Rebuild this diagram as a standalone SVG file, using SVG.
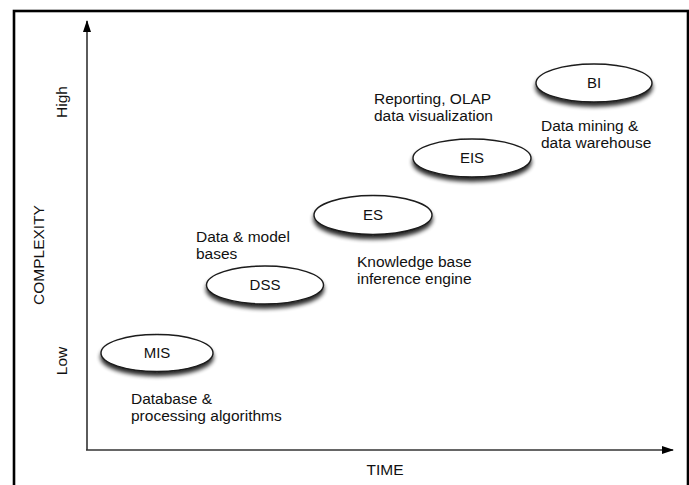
<svg xmlns="http://www.w3.org/2000/svg" width="689" height="485" viewBox="0 0 689 485">
<style>
  text { font-family: "Liberation Sans", Arial, Helvetica, sans-serif; fill: #111; }
  .lbl { font-size: 15.5px; }
  .node { font-size: 15px; text-anchor: middle; }
  .ax { font-size: 15.5px; }
  ellipse.n { fill: #fff; stroke: #1a1a1a; stroke-width: 1.4; }
  .axis { stroke: #333; stroke-width: 1.6; fill: none; }
</style>
<defs>
  <filter id="sh" x="-30%" y="-50%" width="160%" height="220%">
    <feGaussianBlur in="SourceAlpha" stdDeviation="2.2"/>
    <feOffset dx="0" dy="4" result="b"/>
    <feComponentTransfer><feFuncA type="linear" slope="0.85"/></feComponentTransfer>
    <feMerge><feMergeNode/><feMergeNode in="SourceGraphic"/></feMerge>
  </filter>
  <marker id="ah" viewBox="0 0 12 8" refX="11" refY="4" markerWidth="12" markerHeight="8" markerUnits="userSpaceOnUse" orient="auto">
    <path d="M0,0 L12,4 L0,8 Z" fill="#000"/>
  </marker>
</defs>
<rect x="14" y="11" width="674" height="490" fill="#fff" stroke="#000" stroke-width="2.6"/>

<g id="connectors">
  <line class="axis" x1="87" y1="450" x2="87" y2="21" marker-end="url(#ah)"/>
  <line class="axis" x1="86" y1="450" x2="673" y2="450" marker-end="url(#ah)"/>
</g>

<g id="axis-labels">
  <text class="ax" transform="translate(44,255) rotate(-90)" text-anchor="middle" font-size="16.5">COMPLEXITY</text>
  <text class="ax" transform="translate(67,102) rotate(-90)" text-anchor="middle">High</text>
  <text class="ax" transform="translate(67,361) rotate(-90)" text-anchor="middle">Low</text>
  <text class="ax" x="385" y="475" text-anchor="middle">TIME</text>
</g>

<g id="MIS">
  <ellipse class="n" cx="157" cy="353" rx="56" ry="18.5" filter="url(#sh)"/>
  <text class="node" x="157" y="358">MIS</text>
  <text class="lbl" x="131" y="404">Database &amp;</text>
  <text class="lbl" x="131" y="421">processing algorithms</text>
</g>

<g id="DSS">
  <ellipse class="n" cx="265" cy="285" rx="58.5" ry="19" filter="url(#sh)"/>
  <text class="node" x="265" y="290">DSS</text>
  <text class="lbl" x="196" y="242">Data &amp; model</text>
  <text class="lbl" x="196" y="259">bases</text>
</g>

<g id="ES">
  <ellipse class="n" cx="373" cy="215" rx="59" ry="19.5" filter="url(#sh)"/>
  <text class="node" x="373" y="220">ES</text>
  <text class="lbl" x="357" y="267">Knowledge base</text>
  <text class="lbl" x="357" y="284">inference engine</text>
</g>

<g id="EIS">
  <ellipse class="n" cx="472" cy="158" rx="59" ry="19" filter="url(#sh)"/>
  <text class="node" x="472" y="163">EIS</text>
  <text class="lbl" x="374" y="104">Reporting, OLAP</text>
  <text class="lbl" x="374" y="121">data visualization</text>
</g>

<g id="BI">
  <ellipse class="n" cx="594" cy="83" rx="58" ry="19" filter="url(#sh)"/>
  <text class="node" x="594" y="88">BI</text>
  <text class="lbl" x="541" y="131">Data mining &amp;</text>
  <text class="lbl" x="541" y="148">data warehouse</text>
</g>
</svg>
